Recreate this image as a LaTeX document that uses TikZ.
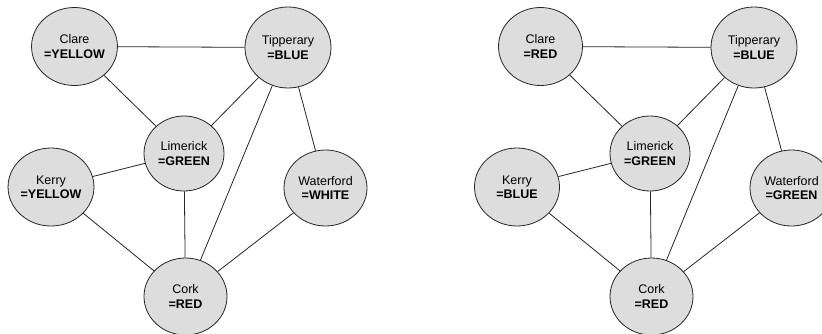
\documentclass[tikz,border=0pt]{standalone}
\usepackage{fontspec}
\setmainfont{Liberation Sans}
\usetikzlibrary{shapes.geometric}
\tikzset{
  county/.style={ellipse, draw=black!85, line width=0.8pt, fill=gray!27,
    inner sep=0pt, align=center, font=\fontsize{12.5}{14.4}\selectfont,
    minimum width=84pt, minimum height=78pt},
  link/.style={draw=black!85, line width=0.8pt}
}
\newcommand{\mapgraph}[8]{%
  \begin{scope}[xshift=#1pt]
    \node[county] (#2cl) at (74.5,46.5) {Clare\\\textbf{=#3}};
    \node[county, minimum width=86pt, minimum height=81pt] (#2ti) at (288,47.5) {Tipperary\\\textbf{=#4}};
    \node[county, minimum width=80pt, minimum height=75pt] (#2li) at (184,153.5) {Limerick\\\textbf{=#5}};
    \node[county, minimum width=85pt, minimum height=78pt] (#2ke) at (51,187) {Kerry\\\textbf{=#6}};
    \node[county, minimum width=83pt, minimum height=76pt] (#2wa) at (325.5,188) {Waterford\\\textbf{=#7}};
    \node[county, minimum width=83pt, minimum height=77pt] (#2co) at (185.5,296.5) {Cork\\\textbf{=#8}};
    \draw[link] (#2cl) -- (#2ti);
    \draw[link] (#2cl) -- (#2li);
    \draw[link] (#2ti) -- (#2li);
    \draw[link] (#2ti) -- (#2co);
    \draw[link] (#2ti) -- (#2wa);
    \draw[link] (#2ke) -- (#2li);
    \draw[link] (#2li) -- (#2co);
    \draw[link] (#2ke) -- (#2co);
    \draw[link] (#2wa) -- (#2co);
  \end{scope}}
\begin{document}
\begin{tikzpicture}[x=1pt, y=-1pt]
  \clip (0,0) rectangle (822,333);
  \fill[white] (0,0) rectangle (822,333);
  \mapgraph{0}{a}{YELLOW}{BLUE}{GREEN}{YELLOW}{WHITE}{RED}
  \mapgraph{466}{b}{RED}{BLUE}{GREEN}{BLUE}{GREEN}{RED}
\end{tikzpicture}
\end{document}
